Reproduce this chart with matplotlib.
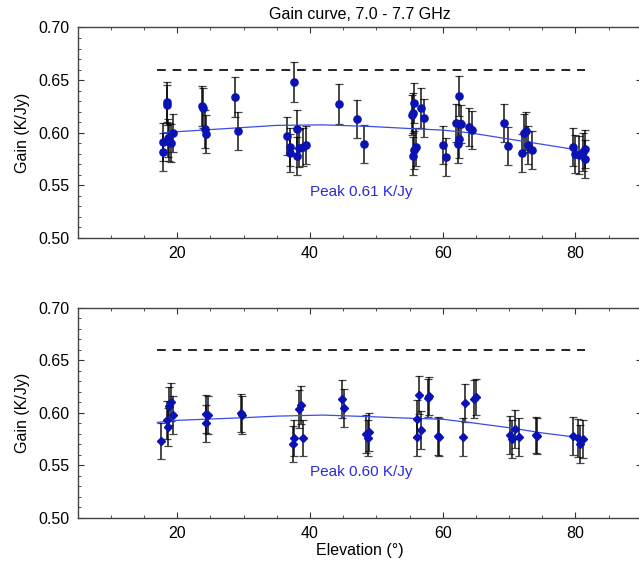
import matplotlib
matplotlib.use('Agg')
import matplotlib.pyplot as plt
from matplotlib.ticker import MultipleLocator

plt.rcParams['font.family'] = ['Liberation Sans', 'DejaVu Sans']

# top panel (7.0 - 7.7 GHz, first set)
el_top = [17.9, 17.9, 18.4, 18.4, 18.6, 18.7, 19.3, 19.0, 23.7, 23.9, 24.2, 24.4,
          28.7, 29.2, 36.5, 37.0, 37.0, 37.6, 38.0, 38.0, 38.4, 38.9, 39.4,
          44.4, 47.1, 48.1, 55.3, 55.5, 55.7, 55.9, 55.7, 55.5, 56.8, 57.2,
          60.0, 60.5, 62.0, 62.3, 62.4, 62.4, 62.7, 64.0, 64.4,
          69.3, 69.8, 71.9, 72.3, 72.5, 72.9, 73.4,
          79.6, 79.9, 80.6, 81.1, 81.4, 81.4]
gain_top = [0.5915, 0.5814, 0.6295, 0.6263, 0.5947, 0.5915, 0.600, 0.590, 0.6255, 0.6232, 0.6033, 0.5988,
            0.6343, 0.6017, 0.5969, 0.5862, 0.581, 0.6485, 0.6033, 0.578, 0.5853, 0.5862, 0.5884,
            0.627, 0.6134, 0.5893, 0.6169, 0.619, 0.6286, 0.5862, 0.5836, 0.5779, 0.6232, 0.6137,
            0.5884, 0.5772, 0.6095, 0.5893, 0.6349, 0.5938, 0.6083, 0.6058, 0.6026,
            0.609, 0.5874, 0.5805, 0.5995, 0.6017, 0.5884, 0.5836,
            0.5867, 0.5798, 0.5788, 0.582, 0.5843, 0.5748]
err_top = [0.018, 0.018, 0.019, 0.019, 0.018, 0.018, 0.018, 0.018, 0.019, 0.019, 0.018, 0.018,
           0.019, 0.018, 0.018, 0.018, 0.018, 0.019, 0.018, 0.018, 0.018, 0.018, 0.018,
           0.019, 0.018, 0.018, 0.019, 0.019, 0.019, 0.018, 0.018, 0.018, 0.019, 0.018,
           0.018, 0.018, 0.018, 0.018, 0.019, 0.018, 0.018, 0.018, 0.018,
           0.018, 0.018, 0.018, 0.018, 0.018, 0.018, 0.018,
           0.018, 0.018, 0.018, 0.018, 0.018, 0.018]
fit_el_top = [17.9, 20, 30, 35, 42, 49, 55, 60, 64, 70, 75, 80, 81.5]
fit_gain_top = [0.600, 0.601, 0.605, 0.607, 0.6075, 0.606, 0.604, 0.6025, 0.600, 0.594, 0.589, 0.584, 0.583]

# bottom panel (second set)
el_bot = [17.55, 18.4, 18.65, 18.8, 19.0, 19.3, 24.3, 24.3, 24.7, 29.6, 29.8,
          37.5, 37.6, 38.4, 38.7, 38.9, 44.8, 45.2, 48.5, 48.9, 48.7,
          56.1, 56.4, 56.1, 56.7, 57.8, 58.0, 59.3, 59.5, 63.1, 63.3, 64.7, 65.0,
          70.1, 70.5, 70.9, 71.5, 74.0, 74.2, 79.7, 80.4, 80.7, 81.1]
gain_bot = [0.5733, 0.5933, 0.587, 0.6067, 0.6108, 0.598, 0.599, 0.590, 0.598, 0.6003, 0.598,
            0.5705, 0.5759, 0.6038, 0.6076, 0.5759, 0.613, 0.605, 0.580, 0.5822, 0.5759,
            0.594, 0.6171, 0.5768, 0.5838, 0.614, 0.6162, 0.5781, 0.5768, 0.5768, 0.6095, 0.613, 0.615,
            0.579, 0.575, 0.5844, 0.5775, 0.579, 0.578, 0.5781, 0.5759, 0.5705, 0.575]
err_bot = [0.017, 0.018, 0.018, 0.018, 0.018, 0.018, 0.018, 0.018, 0.018, 0.018, 0.018,
           0.017, 0.017, 0.018, 0.018, 0.017, 0.018, 0.018, 0.018, 0.018, 0.017,
           0.018, 0.018, 0.018, 0.018, 0.018, 0.018, 0.018, 0.018, 0.018, 0.018, 0.018, 0.017,
           0.018, 0.018, 0.018, 0.018, 0.017, 0.017, 0.018, 0.018, 0.018, 0.018]
fit_el_bot = [17.0, 20, 30, 35, 42, 49, 55, 60, 64, 70, 75, 80, 81.5]
fit_gain_bot = [0.591, 0.593, 0.5955, 0.597, 0.598, 0.5965, 0.595, 0.594, 0.591, 0.586, 0.581, 0.577, 0.576]

spec_el = [17.0, 81.5]
spec_gain = 0.66

fig = plt.figure(figsize=(6.39, 5.62), dpi=100)
ax1 = fig.add_axes([0.1216, 0.5765, 0.8828, 0.3746])
ax2 = fig.add_axes([0.1216, 0.0783, 0.8828, 0.3737])


def draw_panel(ax, el, gain, err, fit_el, fit_gain, peak_text, marker, ms):
    ax.errorbar(el, gain, yerr=err, fmt='none', ecolor='black', elinewidth=1.4,
                capsize=2.8, capthick=0.9, alpha=0.72, zorder=2)
    ax.plot(fit_el, fit_gain, color='#3a4ce6', lw=0.9, zorder=3)
    ax.plot(el, gain, linestyle='none', marker=marker, ms=ms, color='#0a12b4',
            markeredgecolor='#0a12b4', zorder=4)
    ax.plot(spec_el, [spec_gain, spec_gain], color='#222222', lw=1.4,
            dashes=(4.5, 3.5), zorder=1)
    ax.text(47.7, 0.544, peak_text, color='#2a2ad8', fontsize=11, ha='center', va='center')

    ax.set_xlim(5, 90)
    ax.set_ylim(0.50, 0.70)
    ax.xaxis.set_major_locator(MultipleLocator(20))
    ax.xaxis.set_minor_locator(MultipleLocator(5))
    ax.yaxis.set_major_locator(MultipleLocator(0.05))
    ax.yaxis.set_minor_locator(MultipleLocator(0.01))
    ax.yaxis.set_major_formatter(plt.FormatStrFormatter('%.2f'))
    ax.tick_params(which='both', direction='in', top=True, right=True, labelsize=11.5,
                   color='#333333', pad=6)
    ax.tick_params(which='major', length=4)
    ax.tick_params(which='minor', length=2)
    for s in ax.spines.values():
        s.set_color('#444444')
        s.set_linewidth(1.0)
    ax.set_ylabel('Gain (K/Jy)', fontsize=11.5, labelpad=6)


draw_panel(ax1, el_top, gain_top, err_top, fit_el_top, fit_gain_top, 'Peak 0.61 K/Jy', 'o', 5.2)
draw_panel(ax2, el_bot, gain_bot, err_bot, fit_el_bot, fit_gain_bot, 'Peak 0.60 K/Jy', 'D', 4.2)

ax1.set_title('Gain curve, 7.0 - 7.7 GHz', fontsize=11.5, pad=6)
ax2.set_xlabel('Elevation (°)', fontsize=11.5, labelpad=1)

fig.savefig('out.png', dpi=100)
